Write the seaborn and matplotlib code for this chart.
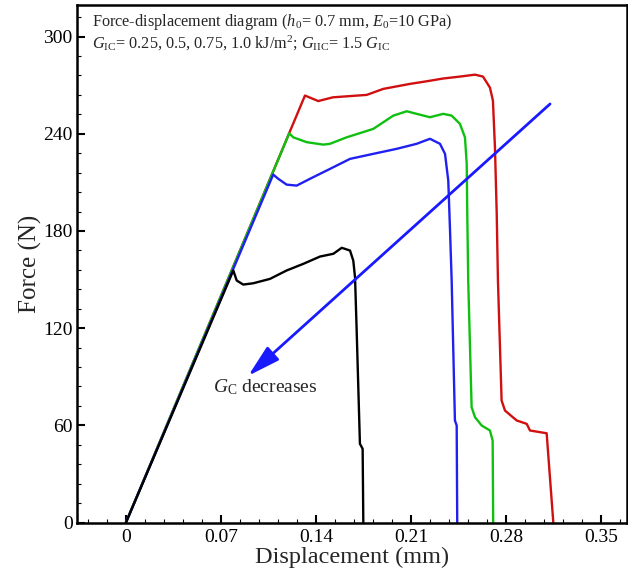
import numpy as np
import pandas as pd
import seaborn as sns
import matplotlib
matplotlib.use("Agg")
import matplotlib.pyplot as plt
from matplotlib.ticker import MultipleLocator, FixedLocator, FixedFormatter

# ---------------- data ----------------
red_x = [0.0, 0.1319, 0.1417, 0.1525, 0.1774, 0.1896, 0.2093, 0.2216, 0.2336, 0.2461,
         0.2572, 0.2631, 0.2682, 0.2704, 0.2719, 0.2732, 0.2741, 0.2768, 0.2793, 0.2879,
         0.2953, 0.2977, 0.3100, 0.3149]
red_y = [0.0, 263.6, 260.2, 262.5, 264.0, 267.7, 270.8, 272.4, 274.1, 275.3,
         276.5, 275.3, 268.5, 260.5, 231.5, 190.7, 149.4, 75.3, 69.1, 63.0,
         60.9, 56.8, 55.1, 0.0]

green_x = [0.0, 0.1203, 0.1233, 0.1332, 0.1454, 0.1503, 0.1626, 0.1822, 0.1970, 0.2069,
           0.2142, 0.2240, 0.2338, 0.2400, 0.2461, 0.2498, 0.2511, 0.2515, 0.2522, 0.2547,
           0.2572, 0.2621, 0.2682, 0.2702, 0.2706]
green_y = [0.0, 240.3, 237.8, 234.8, 233.3, 233.8, 237.8, 243.0, 251.2, 253.9,
           252.3, 250.2, 252.3, 251.2, 246.1, 237.8, 221.4, 190.6, 149.4, 71.2,
           65.0, 59.9, 56.8, 50.6, 0.0]

blue_x = [0.0, 0.1085, 0.1122, 0.1184, 0.1258, 0.1356, 0.1503, 0.1651, 0.1822, 0.1995,
          0.2142, 0.2240, 0.2314, 0.2351, 0.2375, 0.2388, 0.2400, 0.2424, 0.2437, 0.2441]
blue_y = [0.0, 214.8, 212.2, 208.6, 208.0, 212.2, 218.3, 224.5, 227.6, 230.7,
          233.8, 236.9, 233.8, 227.6, 211.1, 180.2, 149.4, 63.0, 59.9, 0.0]

black_x = [0.0, 0.0791, 0.0816, 0.0864, 0.0938, 0.1061, 0.1184, 0.1307, 0.1430, 0.1528,
           0.1590, 0.1651, 0.1675, 0.1688, 0.1700, 0.1724, 0.1744, 0.1749]
black_y = [0.0, 155.6, 149.4, 146.9, 147.7, 150.4, 155.6, 159.7, 164.2, 165.9,
           169.6, 167.9, 161.7, 151.4, 118.5, 48.6, 45.5, 0.0]

series_names = ["G_IC=1.0", "G_IC=0.75", "G_IC=0.5", "G_IC=0.25"]
series_colors = ["#d01010", "#10c010", "#2020f0", "#000000"]

x_ticks = [0, 0.07, 0.14, 0.21, 0.28, 0.35]
x_tick_labels = ["0", "0.07", "0.14", "0.21", "0.28", "0.35"]
y_ticks = [0, 60, 120, 180, 240, 300]
y_tick_labels = ["0", "60", "120", "180", "240", "300"]

arrow_start = (0.3125, 258.4)
arrow_end = (0.0901, 90.6)

# ---------------- style ----------------
sns.set_style("white")
plt.rcParams["font.family"] = ["Liberation Serif", "DejaVu Serif"]
plt.rcParams["mathtext.fontset"] = "custom"
plt.rcParams["mathtext.rm"] = "Liberation Serif"
plt.rcParams["mathtext.it"] = "Liberation Serif:italic"
plt.rcParams["mathtext.bf"] = "Liberation Serif:bold"

fig = plt.figure(figsize=(6.28, 5.79), dpi=100)
ax = fig.add_axes([76.7 / 628, 56.5 / 579, (627 - 76.7) / 628, (574 - 56.5) / 579])

xs = [red_x, green_x, blue_x, black_x]
ys = [red_y, green_y, blue_y, black_y]
for name, col, x, y in zip(series_names, series_colors, xs, ys):
    df = pd.DataFrame({"Displacement": x, "Force": y})
    sns.lineplot(data=df, x="Displacement", y="Force", sort=False, estimator=None,
                 color=col, lw=1.7, ax=ax)

ax.set_xlim(-0.0363, 0.3692)
ax.set_ylim(0, 319.5)

ax.xaxis.set_major_locator(FixedLocator(x_ticks))
ax.xaxis.set_major_formatter(FixedFormatter(x_tick_labels))
ax.yaxis.set_major_locator(FixedLocator(y_ticks))
ax.yaxis.set_major_formatter(FixedFormatter(y_tick_labels))
ax.xaxis.set_minor_locator(MultipleLocator(0.014))
ax.yaxis.set_minor_locator(MultipleLocator(12))
ax.tick_params(which="major", direction="in", length=6, width=1.5,
               labelsize=14, colors="black")
ax.tick_params(axis="x", which="major", pad=5)
ax.tick_params(axis="y", which="major", pad=3)
ax.tick_params(which="minor", direction="in", length=3, width=0.8, colors="black")
ax.tick_params(bottom=True, left=True, top=False, right=False, which="both")

for sp in ax.spines.values():
    sp.set_linewidth(1.8)
    sp.set_color("black")

ax.set_xlabel("Displacement (mm)", fontsize=17.5, labelpad=0)
ax.set_ylabel("Force (N)", fontsize=18, labelpad=1)

ax.annotate("", xy=arrow_end, xytext=arrow_start,
            arrowprops=dict(arrowstyle="-|>,head_length=1.1,head_width=0.3",
                            color="#1a1aff", lw=2, mutation_scale=18,
                            shrinkA=0, shrinkB=0))
ax.text(0.0641, 83.3, r"$G_{\rm C}$ decreases", fontsize=14, ha="left", va="center")

fig.text(91.7 / 628, 1 - 22 / 579,
         r"Force-displacement diagram ($h_{\rm 0}$= 0.7 mm, $E_{\rm 0}$=10 GPa)",
         fontsize=11.7, ha="left", va="center")
fig.text(91.7 / 628, 1 - 43 / 579,
         r"$G_{\rm IC}$= 0.25, 0.5, 0.75, 1.0 kJ/m$^2$; $G_{\rm IIC}$= 1.5 $G_{\rm IC}$",
         fontsize=11.7, ha="left", va="center")

fig.savefig("out.png", dpi=100)
